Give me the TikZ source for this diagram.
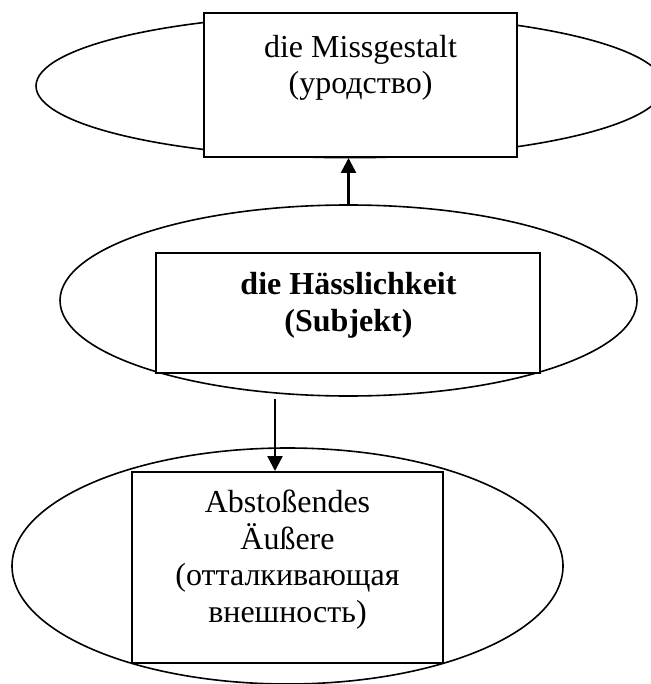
\documentclass[tikz,border=0pt]{standalone}
\usepackage{fontspec}
\setmainfont{Liberation Serif}
\usetikzlibrary{shapes.geometric,arrows.meta}
\tikzset{
  oval/.style={draw=black, line width=1.6pt, ellipse, inner sep=0pt, fill=white},
  frame/.style={draw=black, line width=2pt, rectangle, inner sep=0pt, fill=white},
  label/.style={font=\fontsize{32}{36.5}\selectfont, align=center, inner sep=0pt, anchor=north},
  arr/.style={line width=2.4pt, -{Triangle[length=15pt,width=15pt]}}
}
\begin{document}
\begin{tikzpicture}[x=1pt,y=-1pt]
\useasboundingbox (0,0) rectangle (650,684);
% ellipses
\node[oval, minimum width=628pt, minimum height=143.4pt] (topell) at (350,86) {};
\node[oval, minimum width=577pt, minimum height=191pt] (midell) at (348.5,300.5) {};
\node[oval, minimum width=551pt, minimum height=236pt] (botell) at (287.5,566) {};
% boxes
\node[frame, minimum width=313pt, minimum height=144pt] (topbox) at (360.5,85) {};
\node[frame, minimum width=384pt, minimum height=120pt] (midbox) at (348,313) {};
\node[frame, minimum width=311pt, minimum height=191pt] (botbox) at (287.5,567.5) {};
% texts
\node[label] (toptext) at (360.5,35.1) {die Missgestalt\\(уродство)};
\node[label, font=\fontsize{32}{36.5}\selectfont\bfseries] (midtext) at (348.5,272.4) {die Hässlichkeit\\(Subjekt)};
\node[label] (bottext) at (287.5,489.8) {Abstoßendes\\Äußere\\(отталкивающая\\внешность)};
% arrows
\draw[arr] (midell.north) -- (midell.north |- topbox.south);
\coordinate (a2) at (275,399);
\draw[arr] (a2) -- (a2 |- botbox.north);
\end{tikzpicture}
\end{document}
